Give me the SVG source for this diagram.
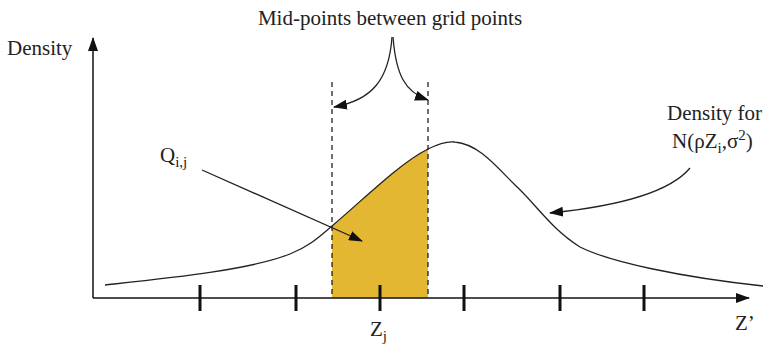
<svg xmlns="http://www.w3.org/2000/svg" width="767" height="348" viewBox="0 0 767 348">
<style>
text{font-family:"Liberation Serif","DejaVu Serif",serif;fill:#222;font-size:21px}
.sub{font-size:15px}
.ax{stroke:#111;stroke-width:1.5;fill:none}
.tick{stroke:#111;stroke-width:3}
.dash{stroke:#111;stroke-width:1.2;stroke-dasharray:5,4;fill:none}
.conn{stroke:#222;stroke-width:1.3;fill:none}
.curve{stroke:#222;stroke-width:1.3;fill:none}
</style>
<defs>
<marker id="ah" markerWidth="14" markerHeight="10" refX="13" refY="5" orient="auto" markerUnits="userSpaceOnUse">
<path d="M0,0 L14,5 L0,10 Z" fill="#111"/>
</marker>
</defs>
<g id="area">
<path d="M332,298 L332,226 C365,198 400,163 428,149 L428,298 Z" fill="#E3B731"/>
</g>
<g id="axes">
<line class="ax" x1="93" y1="298" x2="93" y2="38" marker-end="url(#ah)"/>
<line class="ax" x1="93" y1="298" x2="749" y2="298" marker-end="url(#ah)"/>
<line class="tick" x1="200" y1="285" x2="200" y2="311"/>
<line class="tick" x1="296" y1="285" x2="296" y2="311"/>
<line class="tick" x1="380" y1="285" x2="380" y2="311"/>
<line class="tick" x1="464" y1="285" x2="464" y2="311"/>
<line class="tick" x1="560" y1="285" x2="560" y2="311"/>
<line class="tick" x1="644" y1="285" x2="644" y2="311"/>
</g>
<g id="density-curve">
<path class="curve" d="M105,285 C170,278 250,270 290,254 C310,246 320,236 332,226 C365,198 400,163 428,149 C440,143 448,141 455,142 C478,144 495,165 515,185 C535,203 550,228 580,247 C610,262 680,277 763,286"/>
</g>
<g id="midpoints">
<line class="dash" x1="332" y1="82" x2="332" y2="298"/>
<line class="dash" x1="428" y1="82" x2="428" y2="298"/>
</g>
<g id="labels">
<text x="7" y="55">Density</text>
<text x="390" y="25" text-anchor="middle">Mid-points between grid points</text>
<text x="160" y="162">Q<tspan class="sub" dy="5">i,j</tspan></text>
<text x="667" y="120">Density for</text>
<text x="672" y="148">N(ρZ<tspan class="sub" dy="5">i</tspan><tspan dy="-5">,σ</tspan><tspan class="sub" dy="-8">2</tspan><tspan dy="8">)</tspan></text>
<text x="370" y="336">Z<tspan class="sub" dy="5">j</tspan></text>
<text x="735" y="330">Z’</text>
</g>
<g id="connectors">
<path class="conn" d="M392,37 C389,80 372,100 334,107" marker-end="url(#ah)"/>
<path class="conn" d="M393,37 C396,75 405,92 428,100" marker-end="url(#ah)"/>
<line class="conn" x1="202" y1="170" x2="362" y2="241" marker-end="url(#ah)"/>
<path class="conn" d="M690,168 C670,192 620,206 550,213" marker-end="url(#ah)"/>
</g>
</svg>
